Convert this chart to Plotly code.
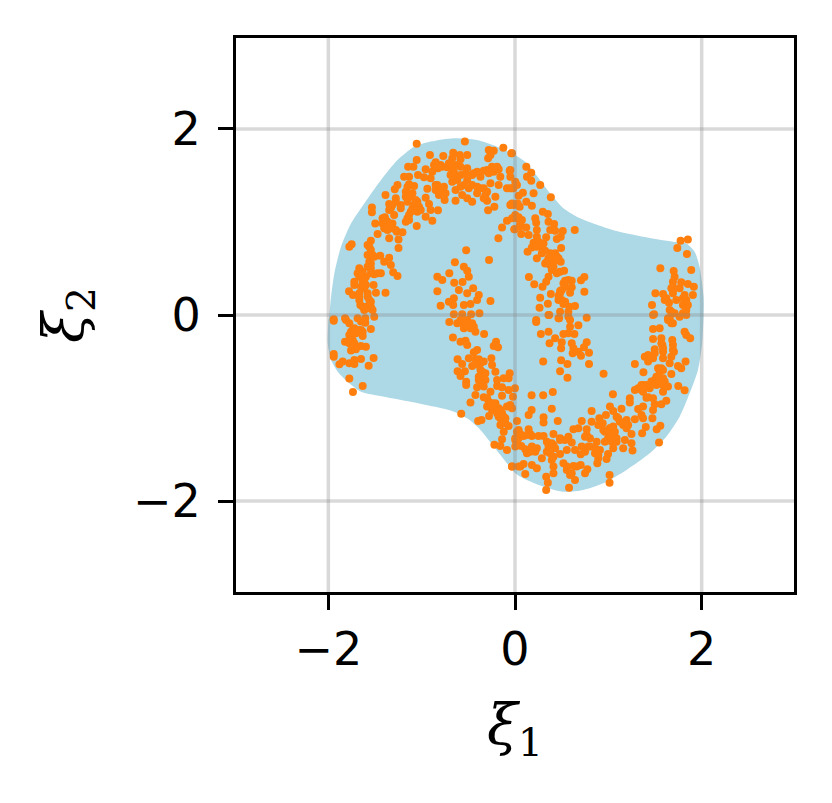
import plotly.graph_objects as go

# Latent space region (outline)
region_x = [-1.99, -1.97, -1.935, -1.864, -1.757, -1.615, -1.437, -1.259, -1.081, -0.904, -0.655, -0.406, -0.193, 0.003,
            0.128, 0.27, 0.377, 0.519, 0.661, 0.839, 1.088, 1.372, 1.692, 1.835, 1.924, 1.977, 2.02, 2.02, 2.005, 1.96,
            1.87, 1.764, 1.621, 1.443, 1.195, 0.946, 0.732, 0.519, 0.306, 0.128, 0.003, -0.086, -0.228, -0.37, -0.512,
            -0.655, -0.868, -1.117, -1.401, -1.65, -1.775, -1.899, -1.97, -2.006, -1.999]
region_y = [-0.02, 0.2, 0.45, 0.735, 0.985, 1.2, 1.45, 1.666, 1.81, 1.864, 1.9, 1.881, 1.81, 1.72,
            1.63, 1.45, 1.308, 1.147, 1.057, 0.985, 0.903, 0.842, 0.788, 0.77, 0.681, 0.52, 0.197, 0.0, -0.304, -0.591,
            -0.845, -1.093, -1.308, -1.487, -1.666, -1.81, -1.881, -1.9, -1.846, -1.774, -1.7, -1.595, -1.415, -1.236, -1.111,
            -1.039, -0.985, -0.932, -0.878, -0.824, -0.734, -0.609, -0.484, -0.304, -0.054]

# Samples, upper left part
upper_left_x = [-1.053, -0.537, -0.125, -0.039, -0.911, -0.768, -1.053, -0.662, -0.591, -0.512, -0.281, -0.228, -0.263, -0.288, -0.584, -0.85, -0.797, -1.145, -1.088, -0.957, -0.886, -0.726, -0.672, -0.584, -0.512, -0.406, -0.335, -0.246, -0.175, -0.057,
                -1.188, -1.135, -1.039, -0.975, -0.904, -0.655, -0.584, -0.459, -0.37, -0.281, -0.157, -0.05, -1.135, -1.259, -1.288, -1.081, -0.939, -0.832, -0.761, -0.85, -0.779, -0.637, -0.548, -0.495, -0.406, -0.335, -0.263, -0.175, -0.086, -0.017,
                -1.387, -1.17, -1.099, -0.957, -0.815, -0.754, -0.637, -0.566, -0.512, -0.459, -0.317, -0.299, -0.21, -0.05, -1.277, -1.348, -1.224, -1.152, -1.064, -0.921, -0.221, -1.533, -1.533, -1.348, -1.099, -1.01, -0.904, -0.825, -0.288,
                -1.394, -1.295, -1.135, -1.046, -0.957, -1.497, -1.419, -1.366, -1.17, -0.886, -0.086, -0.032, -1.401, -1.313, -1.053, -0.139, -1.472, -1.266, -1.206, -1.348, -1.248, -0.004, -0.178, -1.544, -1.75, -1.775, -1.579, -1.248, -1.544, -0.523,
                -1.579, -1.508, -1.444, -1.348, -0.278, -1.401, -1.544, -1.33, -0.644, -1.668, -1.544, -0.548, -0.512, -1.305, -1.259, -1.437, -1.508, -1.686, -1.597, -0.704, -0.832, -0.779, -0.495, -1.721, -1.632, -1.515, -1.721, -0.651, -0.562, -0.448, -1.615,
                -1.778, -1.736, -1.668, -1.579, -1.49, -1.387, -0.832, -0.601, -0.512, -0.388, -1.668, -1.544, -0.655, -0.708, -0.406, -0.263, -1.657, -1.544, -0.797, -0.662, -0.548, -0.477, -1.615, -1.526, -0.655, -0.566, -0.47, -0.381, -1.508, -1.942, -1.821, -1.686, -1.604]
upper_left_y = [1.842, 1.864, 1.799, 1.738, 1.72, 1.709, 1.666, 1.745, 1.72, 1.72, 1.774, 1.767, 1.72, 1.684, 1.674, 1.641, 1.613, 1.595, 1.595, 1.566, 1.541, 1.588, 1.559, 1.595, 1.577, 1.541, 1.552, 1.595, 1.566, 1.552,
                1.487, 1.487, 1.505, 1.48, 1.469, 1.487, 1.505, 1.505, 1.487, 1.523, 1.487, 1.487, 1.405, 1.398, 1.351, 1.387, 1.358, 1.398, 1.38, 1.344, 1.326, 1.344, 1.398, 1.362, 1.38, 1.362, 1.416, 1.398, 1.362, 1.362,
                1.29, 1.326, 1.308, 1.261, 1.29, 1.236, 1.229, 1.29, 1.254, 1.218, 1.29, 1.229, 1.272, 1.183, 1.254, 1.193, 1.183, 1.218, 1.236, 1.193, 1.165, 1.157, 1.104, 1.129, 1.147, 1.129, 1.129, 1.125, 1.125,
                1.05, 1.075, 1.075, 1.111, 1.057, 0.985, 0.985, 1.003, 1.003, 1.014, 1.014, 1.039, 0.932, 0.932, 0.957, 0.942, 0.871, 0.896, 0.889, 0.824, 0.813, 0.921, 0.824, 0.799, 0.76, 0.735, 0.753, 0.72, 0.699, 0.695,
                0.645, 0.627, 0.638, 0.616, 0.591, 0.573, 0.555, 0.537, 0.566, 0.502, 0.502, 0.52, 0.477, 0.459, 0.419, 0.448, 0.437, 0.448, 0.412, 0.448, 0.412, 0.376, 0.412, 0.358, 0.358, 0.322, 0.322, 0.348, 0.355, 0.287, 0.287,
                0.254, 0.215, 0.233, 0.233, 0.24, 0.24, 0.254, 0.269, 0.233, 0.215, 0.161, 0.143, 0.179, 0.143, 0.161, 0.15, 0.107, 0.09, 0.1, 0.107, 0.107, 0.118, 0.054, 0.054, 0.007, 0.007, 0.007, 0.018, -0.018, -0.047, -0.036, -0.036, -0.036]

# Samples, upper right part
upper_right_x = [0.121, 0.174, 0.128, 0.174, 0.27, 0.021, 0.085, 0.039, 0.199, 0.384, 0.121, 0.181, 0.05, 0.298, 0.352, 0.039, 0.074, 0.217, 0.227, 0.359, 0.419, 0.121, -0.007, 0.234, 0.377, 0.43, 0.512, 0.64, 0.067, 0.146, 0.234, 0.334, 0.49, 0.448,
                 0.199, 0.306, 0.277, 0.494, 0.181, 0.135, 0.323, 0.288, 0.234, 0.394, 0.448, 0.341, 0.412, 0.49, 0.377, 0.394, 0.483, 0.526, 0.448, 0.359, 0.149, 0.206, 0.743, 0.707, 0.608, 0.537, 0.334, 0.295, 0.537, 0.608, 0.483, 0.384, 0.59, 0.743,
                 0.466, 0.27, 0.501, 0.352, 0.519, 0.643, 0.583, 0.263, 0.483, 0.572, 0.359, 0.466, 0.572, 0.768, 0.227, -0.032, -0.05, 0.003, -0.032, -0.032, 0.003,
                 1.852, 1.774, 1.739, 1.842, 1.888, 1.557, 1.7, 1.71, 1.692, 1.781, 1.852, 1.916, 1.675, 1.692, 1.504, 1.586, 1.906, 1.799, 1.835, 1.728, 1.604, 1.65, 1.468, 1.799, 1.852, 1.657, 1.835, 1.49, 1.71, 1.639, 1.764, 1.835]
upper_right_y = [1.595, 1.53, 1.487, 1.444, 1.398, 1.398, 1.315, 1.283, 1.308, 1.265, 1.218, 1.175, 1.165, 1.111, 1.086, 1.05, 1.021, 1.039, 0.993, 1.003, 0.978, 0.942, 0.921, 0.914, 0.914, 0.907, 0.903, 0.914, 0.871, 0.86, 0.842, 0.835, 0.842, 0.817,
                 0.778, 0.77, 0.735, 0.72, 0.727, 0.681, 0.692, 0.663, 0.609, 0.627, 0.627, 0.573, 0.573, 0.573, 0.537, 0.484, 0.466, 0.477, 0.448, 0.412, 0.408, 0.33, 0.408, 0.373, 0.369, 0.369, 0.358, 0.305, 0.305, 0.297, 0.258, 0.226, 0.24, 0.251,
                 0.208, 0.186, 0.161, 0.122, 0.118, 0.097, 0.09, 0.079, 0.036, 0.036, 0.0, -0.036, -0.018, -0.029, -0.054, 1.738, 1.559, 1.433, 1.362, 1.2, 1.075,
                 0.813, 0.799, 0.72, 0.656, 0.484, 0.502, 0.473, 0.412, 0.358, 0.351, 0.333, 0.305, 0.287, 0.233, 0.233, 0.226, 0.215, 0.179, 0.161, 0.161, 0.161, 0.132, 0.107, 0.107, 0.107, 0.054, 0.054, 0.007, 0.018, -0.036, -0.018, 0.0]

# Samples, lower left part
lower_left_x = [-1.942, -1.81, -1.775, -1.65, -1.604, -1.544, -1.739, -1.65, -1.775, -1.704, -1.632, -1.821, -1.739, -1.65, -1.597, -1.757, -1.704, -1.942, -1.942, -1.515, -1.846, -1.881, -1.775, -1.721, -1.65, -1.721, -1.568, -1.775, -1.632, -1.736,
                -0.704, -0.619, -0.548, -0.495, -0.441, -0.424, -0.331, -0.665, -0.584, -0.53, -0.512, -0.203, -0.228, -0.182, -0.406, -0.441, -0.495, -0.615, -0.388, -0.253, -0.566, -0.459, -0.37, -0.246, -0.615, -0.537, -0.584, -0.37, -0.21, -0.057,
                -0.523, -0.523, -0.37, -0.317, -0.192, -0.121, -0.068, -0.406, -0.352, -0.192, -0.139, -0.068, 0.0, -0.263, -0.139, -0.022, -0.424, -0.477, -0.335, -0.281, -0.21, -0.299, -0.246, -0.086, -0.032, -0.157, -0.576, -0.395, -0.359, -0.278,
                -0.175, -0.103, -0.157, 0.021, -0.121, -0.068, 0.021, -0.139, 0.003, -0.221, -0.157, -0.086, 0.003, -0.032, 0.039]
lower_left_y = [-0.061, -0.054, -0.089, -0.071, -0.082, -0.15, -0.161, -0.161, -0.215, -0.197, -0.226, -0.287, -0.269, -0.333, -0.34, -0.383, -0.369, -0.419, -0.448, -0.462, -0.501, -0.53, -0.519, -0.484, -0.473, -0.527, -0.545, -0.684, -0.763, -0.828,
                -0.075, -0.089, -0.143, -0.089, -0.125, -0.179, -0.204, -0.243, -0.287, -0.276, -0.322, -0.287, -0.333, -0.347, -0.376, -0.401, -0.466, -0.476, -0.476, -0.466, -0.527, -0.548, -0.519, -0.537, -0.605, -0.605, -0.656, -0.591, -0.609, -0.627,
                -0.717, -0.752, -0.663, -0.699, -0.699, -0.681, -0.681, -0.777, -0.752, -0.763, -0.777, -0.806, -0.788, -0.824, -0.867, -0.878, -0.86, -0.942, -0.885, -0.932, -0.95, -0.985, -1.021, -0.985, -1.003, -1.021, -1.061, -1.139, -1.129, -1.086,
                -1.093, -1.111, -1.182, -1.139, -1.254, -1.193, -1.254, -1.337, -1.344, -1.394, -1.408, -1.451, -1.415, -1.63, -1.63]

# Samples, lower right part
lower_right_x = [0.227, 0.366, 0.473, 0.59, 0.679, 0.59, 0.359, 0.277, 0.519, 0.572, 0.636, 0.43, 0.37, 0.501, 0.494, 0.608, 0.768, 0.739, 0.626, 0.679, 0.618, 0.707, 0.793, 0.302, 0.494, 0.562, 0.793, 0.483, 0.562, 0.949,
                 1.479, 1.657, 1.692, 1.479, 1.55, 1.817, 1.835, 1.877, 1.479, 1.568, 1.685, 1.579, 1.692, 1.497, 1.586, 1.703, 1.426, 1.39, 1.479, 1.586, 1.675, 1.426, 1.827, 1.284, 1.657, 1.746, 1.781, 1.532, 1.586, 1.376, 1.675, 1.515, 1.586, 1.461, 1.532, 1.604,
                 1.355, 1.443, 1.319, 1.749, 1.817, 1.284, 1.639, 1.586, 1.372, 0.405, 0.178, 0.302, 1.049, 1.23, 1.408, 1.479, 1.621, 1.23, 1.497, 1.568, 1.017, 1.141, 1.319, 1.372, 1.479, 1.052, 0.821, 0.394, 0.178, 0.146, 1.355, 1.088, 0.974, 0.903, 1.372, 1.472,
                 0.306, 0.306, 0.458, 0.715, 0.821, 1.284, 1.123, 0.939, 0.892, 1.212, 1.159, 1.401, 1.557, 1.518, 1.195, 1.017, 0.626, 0.679, 0.768, 0.146, 0.039, 0.963, 1.07, 1.362, 1.248, 0.128, 0.181, 0.092, 0.306, 0.412, 0.572, 0.75, 0.803, 0.997, 1.177, 0.039,
                 0.341, 0.483, 0.963, 1.088, 1.248, 1.543, 0.875, 0.608, 0.412, 0.067, 0.181, 0.234, 0.715, 0.786, 0.555, 0.643, 0.91, 1.052, 1.159, 1.259, 0.128, 0.341, 0.483, 0.704, 0.857, 0.997, 0.288, 0.394, 0.892, 0.981, 0.882, 0.092, 0.181, 0.519, 0.626, 0.704,
                 0.057, 0.234, 0.412, 0.555, 0.775, 0.75, 0.11, 0.334, 0.412, 0.59, 1.013, 0.643, 0.352, 1.013, 0.334, 0.579, -0.032]
lower_right_y = [-0.075, 0.0, -0.036, -0.054, -0.111, -0.125, -0.179, -0.204, -0.204, -0.197, -0.204, -0.251, -0.304, -0.294, -0.358, -0.304, -0.294, -0.347, -0.358, -0.394, -0.412, -0.437, -0.405, -0.501, -0.487, -0.527, -0.527, -0.605, -0.674, -0.631,
                 0.0, -0.036, -0.09, -0.15, -0.143, -0.179, -0.215, -0.251, -0.258, -0.251, -0.269, -0.322, -0.322, -0.369, -0.394, -0.394, -0.43, -0.448, -0.466, -0.466, -0.448, -0.501, -0.501, -0.527, -0.519, -0.548, -0.573, -0.573, -0.591, -0.616, -0.634, -0.663, -0.681, -0.716, -0.716, -0.716,
                 -0.752, -0.788, -0.788, -0.763, -0.81, -0.806, -0.77, -0.824, -0.824, -0.828, -0.864, -0.864, -0.853, -0.896, -0.889, -0.896, -0.921, -0.942, -0.96, -0.96, -0.985, -1.007, -1.01, -0.985, -1.021, -1.032, -1.032, -1.007, -1.021, -1.075, -1.075, -1.093, -1.075, -1.111, -1.111, -1.111,
                 -1.1, -1.157, -1.139, -1.139, -1.147, -1.122, -1.147, -1.165, -1.182, -1.182, -1.182, -1.204, -1.19, -1.229, -1.218, -1.218, -1.229, -1.218, -1.229, -1.229, -1.236, -1.254, -1.254, -1.272, -1.279, -1.29, -1.301, -1.301, -1.301, -1.279, -1.308, -1.308, -1.326, -1.326, -1.344, -1.326,
                 -1.362, -1.344, -1.362, -1.362, -1.38, -1.372, -1.362, -1.372, -1.398, -1.408, -1.415, -1.433, -1.415, -1.415, -1.451, -1.451, -1.451, -1.433, -1.433, -1.458, -1.487, -1.469, -1.494, -1.498, -1.487, -1.494, -1.541, -1.559, -1.541, -1.548, -1.595, -1.602, -1.612, -1.595, -1.623, -1.612,
                 -1.63, -1.648, -1.63, -1.666, -1.659, -1.702, -1.709, -1.738, -1.702, -1.72, -1.72, -1.774, -1.803, -1.803, -1.881, -1.856, -1.63]

# Samples inside the dense clumps, top arc and left side
clump_a_x = [-0.868, -0.825, -0.779, -0.708, -0.672, -0.637, -0.655, -0.69, -0.619, -0.672, -0.584, -0.512, -0.53, -0.441, -0.388, -0.299, -0.228, -0.192, -0.37, -0.299, -0.335, -0.406, -0.459, -0.832, -0.797, -0.85, -0.815, -0.744,
             -1.152, -1.117, -1.17, -1.046, -1.081, -1.117, -1.152, -1.135, -1.028, -1.33, -1.277, -1.313, -1.384, -1.419, -1.348, -1.384, -1.313, -1.277, -1.224, -1.366,
             -1.561, -1.526, -1.561, -1.579, -1.544, -1.632, -1.668, -1.615, -1.65, -1.597, -1.579, -1.668, -1.561, -1.632, -1.597, -1.561, -1.472,
             -1.757, -1.721, -1.686, -1.757, -1.793, -1.721, -1.632, -1.775]
clump_a_y = [1.613, 1.577, 1.595, 1.631, 1.684, 1.613, 1.541, 1.505, 1.451, 1.433, 1.38, 1.451, 1.523, 1.523, 1.53, 1.559, 1.541, 1.595, 1.362, 1.326, 1.254, 1.308, 1.398, 1.362, 1.344, 1.398, 1.308, 1.308,
             1.38, 1.272, 1.272, 1.218, 1.183, 1.111, 1.039, 1.021, 1.165, 1.147, 1.218, 1.183, 1.021, 1.039, 0.95, 0.968, 0.985, 0.914, 1.147, 0.914,
             0.735, 0.645, 0.573, 0.52, 0.448, 0.466, 0.412, 0.376, 0.305, 0.322, 0.197, 0.197, 0.161, 0.09, 0.09, 0.072, 0.448,
             -0.179, -0.143, -0.161, -0.251, -0.287, -0.304, -0.179, -0.304]

# Samples inside the dense clumps, inner band and bottom arc
clump_b_x = [-0.566, -0.512, -0.548, -0.477, -0.459, -0.584, -0.388, -0.352, -0.335, -0.388, -0.37, -0.335, -0.388, -0.317, -0.299, -0.246, -0.175, -0.139, -0.121, -0.157, -0.103, -0.05, -0.192, 0.003, 0.021, -0.335, -0.424,
             0.394, 0.359, 0.43, 0.377, 0.466, 0.323, 0.412, 0.234, 0.252, 0.483, 0.501, 0.519, 0.466, 0.537, 0.572, -0.05, -0.014, 0.021, 0.057, 0.028, 0.05,
             1.764, 1.692, 1.817, 1.817, 1.621, 1.692, 1.675, 1.799, 1.639, 1.675, 1.568, 1.692, 1.586, 1.497, 1.426, 1.55, 1.568, 1.497, 1.55, 1.372, 1.408, 1.515, 1.355, 1.586, 1.426,
             1.017, 1.052, 0.999, 0.946, 1.052, 1.088, 1.035, 0.768, 0.394, 0.43, 0.359, 0.377, 0.412, 0.163, 0.217, 0.11, 0.057, 0.163, 0.252, 0.483, 0.537, 0.857, 0.803, 0.75, 0.892, 0.555, 0.661, 0.608, 1.195, 1.106, 1.177]
clump_b_y = [-0.071, -0.054, -0.107, -0.143, -0.089, -0.054, -0.537, -0.609, -0.645, -0.699, -0.734, -0.77, -0.663, -0.627, -0.896, -0.95, -1.003, -1.057, -1.093, -1.111, -1.165, -0.967, -1.057, -1.326, -1.38, -0.501, -0.476,
             0.591, 0.609, 0.663, 0.663, 0.609, 0.555, 0.52, 0.735, 0.788, 0.233, 0.269, 0.34, 0.161, 0.143, 0.376, 1.362, 1.183, 1.039, 0.985, 1.2, 0.95,
             0.287, 0.269, 0.125, 0.215, 0.179, 0.305, 0.036, 0.018, -0.054, -0.09, -0.304, -0.376, -0.358, -0.412, -0.448, -0.609, -0.573, -0.699, -0.734, -0.752, -0.752, -0.752, -0.806, -0.752, -0.885,
             -1.218, -1.2, -1.254, -1.236, -1.308, -1.326, -1.362, -1.29, -1.38, -1.433, -1.415, -1.487, -1.523, -1.469, -1.469, -1.444, -1.279, -1.279, -1.301, -1.326, -1.344, -1.433, -1.415, -1.469, -1.505, -1.63, -1.63, -1.702, -1.129, -1.111, -1.165]

tick_vals = [-2, 0, 2]

points_x = upper_left_x + upper_right_x + lower_left_x + lower_right_x + clump_a_x + clump_b_x
points_y = upper_left_y + upper_right_y + lower_left_y + lower_right_y + clump_a_y + clump_b_y

fig = go.Figure()
fig.add_trace(go.Scatter(x=region_x, y=region_y, mode="lines", fill="toself", fillcolor="lightblue",
                         line=dict(width=0, shape="spline", smoothing=0.7), hoverinfo="skip"))
fig.add_trace(go.Scatter(x=points_x, y=points_y, mode="markers",
                         marker=dict(color="#ff7f0e", size=8, line=dict(width=0))))

# grid sits on top of the data in the original
for t in tick_vals:
    fig.add_shape(type="line", xref="x", yref="paper", x0=t, x1=t, y0=0, y1=1, layer="above",
                  line=dict(color="rgba(128,128,128,0.3)", width=3.5))
    fig.add_shape(type="line", xref="paper", yref="y", x0=0, x1=1, y0=t, y1=t, layer="above",
                  line=dict(color="rgba(128,128,128,0.3)", width=3.5))

# the axis line is drawn outside the plot area, so the area is a bit smaller than the frame
axis_style = dict(showgrid=False, zeroline=False, showline=True, mirror=True, tickvals=tick_vals,
                  linecolor="black", linewidth=3, ticks="outside", ticklen=15, tickwidth=3, tickcolor="black",
                  tickfont=dict(family="DejaVu Sans", size=46, color="black"))
fig.update_xaxes(range=[-2.989, 2.989],
                 title=dict(text="<i>ξ</i><sub>1</sub>", font=dict(family="DejaVu Serif", size=56, color="black"),
                            standoff=30), **axis_style)
fig.update_yaxes(range=[-2.978, 2.978],
                 title=dict(text="<i>ξ</i><sub>2</sub>", font=dict(family="DejaVu Serif", size=56, color="black"),
                            standoff=32), ticklabelstandoff=8, **axis_style)
fig.update_layout(width=832, height=803, autosize=False, showlegend=False, plot_bgcolor="white", paper_bgcolor="white",
                  margin=dict(l=236, r=38, t=38, b=211))

fig.write_html("out.html", config=dict(displayModeBar=False), post_script="document.body.style.margin='0';")
